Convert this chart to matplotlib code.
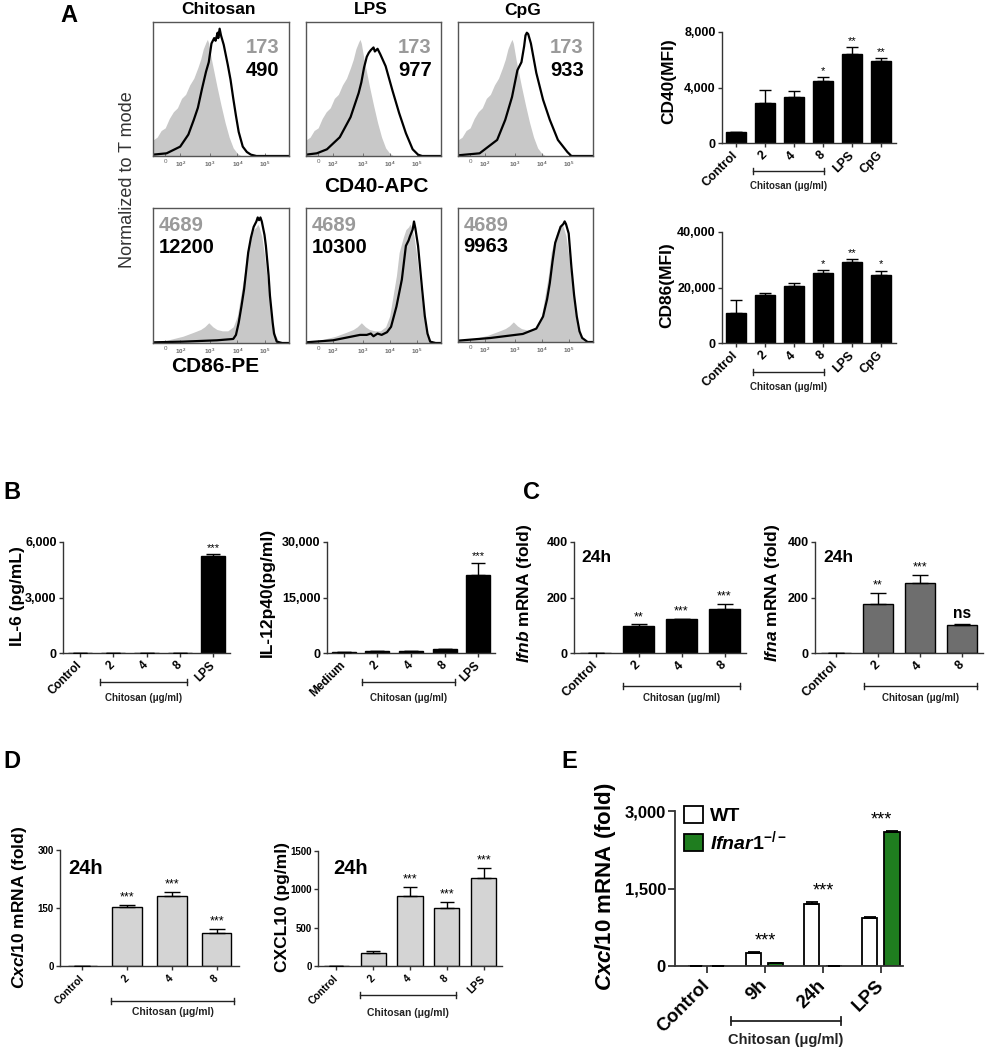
import numpy as np
import matplotlib
matplotlib.use('Agg')
import matplotlib.pyplot as plt
from matplotlib.transforms import blended_transform_factory
from matplotlib.patches import Patch

plt.rcParams['font.family'] = ['Liberation Sans', 'DejaVu Sans']
plt.rcParams['font.weight'] = 'bold'
plt.rcParams['mathtext.fontset'] = 'custom'
plt.rcParams['mathtext.rm'] = 'Liberation Sans:bold'
plt.rcParams['mathtext.it'] = 'Liberation Sans:italic:bold'
plt.rcParams['mathtext.bf'] = 'Liberation Sans:bold'

# ---------------- DATA ----------------
# Panel A histograms (x: fraction of axis width on biexponential scale, y: normalized to mode)
hist_tick_pos = [0.09, 0.20, 0.42, 0.62, 0.82]
hist_tick_labels = ['0', r'$10^2$', r'$10^3$', r'$10^4$', r'$10^5$']
hist_titles = ['Chitosan', 'LPS', 'CpG']

cd40_ctrl_x = [0.00, 0.03, 0.06, 0.09, 0.12, 0.15, 0.18, 0.21, 0.24, 0.27, 0.30, 0.33, 0.35, 0.37, 0.39,
               0.40, 0.41, 0.43, 0.45, 0.47, 0.50, 0.53, 0.56, 0.59, 0.62, 0.65]
cd40_ctrl_y = [0.12, 0.14, 0.19, 0.21, 0.28, 0.33, 0.36, 0.43, 0.46, 0.53, 0.58, 0.66, 0.72, 0.80, 0.85,
               0.87, 0.84, 0.72, 0.62, 0.52, 0.38, 0.25, 0.14, 0.06, 0.02, 0.0]
cd40_chit_x = [0.00, 0.10, 0.20, 0.26, 0.30, 0.33, 0.36, 0.39, 0.41, 0.43, 0.44, 0.45, 0.46, 0.475, 0.48,
               0.49, 0.50, 0.52, 0.55, 0.57, 0.59, 0.61, 0.63, 0.66, 0.69, 0.72, 0.76, 1.0]
cd40_chit_y = [0.01, 0.02, 0.07, 0.16, 0.27, 0.36, 0.50, 0.63, 0.70, 0.84, 0.86, 0.88, 0.86, 0.92, 0.88,
               0.95, 0.90, 0.83, 0.68, 0.57, 0.43, 0.30, 0.18, 0.07, 0.03, 0.01, 0.0, 0.0]
cd40_lps_x = [0.00, 0.08, 0.155, 0.25, 0.33, 0.36, 0.39, 0.41, 0.43, 0.45, 0.465, 0.48, 0.50, 0.51, 0.53,
              0.55, 0.59, 0.64, 0.69, 0.74, 0.79, 0.83, 0.86, 1.0]
cd40_lps_y = [0.01, 0.02, 0.05, 0.14, 0.29, 0.38, 0.47, 0.55, 0.66, 0.74, 0.77, 0.79, 0.81, 0.78, 0.80,
              0.76, 0.67, 0.49, 0.32, 0.17, 0.05, 0.01, 0.0, 0.0]
cd40_cpg_x = [0.00, 0.16, 0.29, 0.35, 0.40, 0.44, 0.47, 0.49, 0.50, 0.51, 0.52, 0.54, 0.58, 0.63, 0.68,
              0.74, 0.81, 0.84, 1.0]
cd40_cpg_y = [0.005, 0.02, 0.12, 0.27, 0.44, 0.64, 0.70, 0.82, 0.90, 0.92, 0.91, 0.84, 0.62, 0.42, 0.27,
              0.12, 0.03, 0.0, 0.0]

cd86_ctrl_x = [0.00, 0.10, 0.22, 0.30, 0.35, 0.38, 0.41, 0.44, 0.47, 0.51, 0.55, 0.59, 0.62, 0.64, 0.67,
               0.69, 0.72, 0.74, 0.76, 0.77, 0.78, 0.80, 0.82, 0.84, 0.86, 0.88, 0.90, 0.92, 0.95]
cd86_ctrl_y = [0.01, 0.02, 0.05, 0.08, 0.10, 0.12, 0.15, 0.12, 0.10, 0.09, 0.09, 0.12, 0.20, 0.32, 0.50,
               0.67, 0.78, 0.84, 0.86, 0.88, 0.86, 0.79, 0.65, 0.47, 0.30, 0.15, 0.06, 0.02, 0.0]
cd86_chit_x = [0.00, 0.22, 0.47, 0.59, 0.61, 0.63, 0.65, 0.67, 0.70, 0.72, 0.74, 0.76, 0.77, 0.78, 0.79,
               0.80, 0.82, 0.83, 0.85, 0.86, 0.88, 0.89, 0.91, 0.95, 1.0]
cd86_chit_y = [0.005, 0.01, 0.02, 0.03, 0.06, 0.15, 0.27, 0.40, 0.67, 0.78, 0.86, 0.90, 0.93, 0.91, 0.93,
               0.90, 0.80, 0.72, 0.50, 0.35, 0.15, 0.07, 0.01, 0.0, 0.0]
cd86_lps_x = [0.00, 0.20, 0.35, 0.40, 0.45, 0.48, 0.50, 0.53, 0.56, 0.60, 0.63, 0.67, 0.71, 0.74, 0.76,
              0.77, 0.79, 0.80, 0.81, 0.83, 0.86, 0.88, 0.90, 0.92, 0.96, 1.0]
cd86_lps_y = [0.005, 0.02, 0.05, 0.06, 0.06, 0.07, 0.05, 0.07, 0.06, 0.08, 0.12, 0.27, 0.47, 0.72, 0.76,
              0.79, 0.84, 0.90, 0.85, 0.72, 0.40, 0.20, 0.07, 0.01, 0.0, 0.0]
cd86_cpg_x = [0.00, 0.24, 0.48, 0.58, 0.63, 0.66, 0.68, 0.70, 0.72, 0.74, 0.76, 0.78, 0.79, 0.80, 0.82,
              0.84, 0.86, 0.88, 0.90, 0.92, 0.96, 1.0]
cd86_cpg_y = [0.01, 0.03, 0.06, 0.10, 0.19, 0.32, 0.44, 0.60, 0.74, 0.80, 0.86, 0.88, 0.90, 0.88, 0.81,
              0.56, 0.35, 0.19, 0.08, 0.03, 0.0, 0.0]

cd40_mfi_ctrl = '173'
cd40_mfi = ['490', '977', '933']
cd86_mfi_ctrl = '4689'
cd86_mfi = ['12200', '10300', '9963']

# Panel A bar charts
a_cats = ['Control', '2', '4', '8', 'LPS', 'CpG']
cd40_vals = [800, 2880, 3320, 4460, 6400, 5900]
cd40_err = [0, 920, 420, 290, 500, 200]
cd40_stars = ['', '', '', '*', '**', '**']
cd86_vals = [10800, 17300, 20400, 25200, 29200, 24500]
cd86_err = [4700, 800, 1400, 1100, 1000, 1600]
cd86_stars = ['', '', '', '*', '**', '*']

# Panel B
il6_cats = ['Control', '2', '4', '8', 'LPS']
il6_vals = [0, 0, 0, 20, 5230]
il6_err = [0, 0, 0, 0, 100]
il6_stars = ['', '', '', '', '***']
il12_cats = ['Medium', '2', '4', '8', 'LPS']
il12_vals = [300, 450, 600, 1080, 21100]
il12_err = [0, 0, 0, 0, 3300]
il12_stars = ['', '', '', '', '***']

# Panel C
c_cats = ['Control', '2', '4', '8']
ifnb_vals = [1, 98, 121, 157]
ifnb_err = [0, 5, 2, 19]
ifnb_stars = ['', '**', '***', '***']
ifna_vals = [1, 177, 253, 102]
ifna_err = [0, 39, 28, 2]
ifna_stars = ['', '**', '***', 'ns']

# Panel D
d1_cats = ['Control', '2', '4', '8']
cxcl10_mrna_vals = [1, 153, 181, 85]
cxcl10_mrna_err = [0, 4, 10, 11]
cxcl10_mrna_stars = ['', '***', '***', '***']
d2_cats = ['Control', '2', '4', '8', 'LPS']
cxcl10_prot_vals = [0, 170, 913, 757, 1148]
cxcl10_prot_err = [0, 26, 117, 78, 130]
cxcl10_prot_stars = ['', '', '***', '***', '***']

# Panel E
e_cats = ['Control', '9h', '24h', 'LPS']
e_wt_vals = [1, 252, 1200, 929]
e_wt_err = [0, 18, 40, 21]
e_ko_vals = [1, 55, 5, 2594]
e_ko_err = [0, 3, 1, 16]
e_stars = ['', '***', '***', '***']

chitosan_label = 'Chitosan (\u03bcg/ml)'

# ---------------- FIGURE ----------------
W, H = 986, 1050
fig = plt.figure(figsize=(W / 100, H / 100), dpi=100)
AXC = '#333333'


def rect(x0, y0, x1, y1):
    return [x0 / W, 1 - y1 / H, (x1 - x0) / W, (y1 - y0) / H]


def ftext(x, y, s, **kw):
    fig.text(x / W, 1 - y / H, s, **kw)


def hist_panel(box, gx, gy, bx, by, gnum, bnum, top):
    ax = fig.add_axes(rect(*box))
    ax.fill_between(gx, gy, 0, color='#c8c8c8', lw=0)
    ax.plot(bx, by, color='black', lw=1.6)
    ax.set_xlim(0, 1)
    ax.set_ylim(0, 1)
    ax.set_yticks([])
    ax.set_xticks(hist_tick_pos)
    ax.set_xticklabels(hist_tick_labels, fontsize=4.5, fontweight='normal')
    ax.tick_params(axis='x', direction='in', length=2, width=0.6, pad=2.5, colors='#666666')
    for sp in ax.spines.values():
        sp.set_color('#555555')
        sp.set_linewidth(1.0)
    if top:
        ax.text(0.93, 0.81, gnum, transform=ax.transAxes, ha='right', va='center',
                fontsize=14.5, color='#9a9a9a')
        ax.text(0.93, 0.64, bnum, transform=ax.transAxes, ha='right', va='center',
                fontsize=14.5, color='black')
    else:
        ax.text(0.04, 0.87, gnum, transform=ax.transAxes, ha='left', va='center',
                fontsize=14.5, color='#9a9a9a')
        ax.text(0.04, 0.71, bnum, transform=ax.transAxes, ha='left', va='center',
                fontsize=14.5, color='black')
    return ax


top_boxes = [(153, 22, 289, 156), (306, 22, 441, 156), (458, 22, 593, 156)]
bot_boxes = [(153, 208, 289, 343), (306, 208, 441, 343), (458, 208, 593, 342)]
top_curves = [(cd40_chit_x, cd40_chit_y), (cd40_lps_x, cd40_lps_y), (cd40_cpg_x, cd40_cpg_y)]
bot_curves = [(cd86_chit_x, cd86_chit_y), (cd86_lps_x, cd86_lps_y), (cd86_cpg_x, cd86_cpg_y)]
for i in range(3):
    hist_panel(top_boxes[i], cd40_ctrl_x, cd40_ctrl_y, *top_curves[i], cd40_mfi_ctrl, cd40_mfi[i], True)
    hist_panel(bot_boxes[i], cd86_ctrl_x, cd86_ctrl_y, *bot_curves[i], cd86_mfi_ctrl, cd86_mfi[i], False)
    cx = (top_boxes[i][0] + top_boxes[i][2]) / 2 - 3
    ftext(cx, 10, hist_titles[i], ha='center', va='center', fontsize=12.5)

ftext(376, 186, 'CD40-APC', ha='center', va='center', fontsize=15)
ftext(215, 367, 'CD86-PE', ha='center', va='center', fontsize=15)
ftext(128, 180, 'Normalized to T mode', ha='center', va='center', rotation=90,
      fontsize=13, fontweight='normal', color='#333333')


def style_axes(ax, fs_y, fs_x, tlen=3, lw=1.0, xpad=4.5):
    for s in ['top', 'right']:
        ax.spines[s].set_visible(False)
    for s in ['left', 'bottom']:
        ax.spines[s].set_color(AXC)
        ax.spines[s].set_linewidth(lw)
    ax.tick_params(axis='both', direction='out', length=tlen, width=lw, colors=AXC, pad=1.5)
    ax.tick_params(axis='y', labelsize=fs_y, labelcolor='black')
    ax.tick_params(axis='x', labelsize=fs_x, labelcolor='black', pad=xpad)


def bar_panel(box, cats, vals, errs, color, ymax, yticks, yticklabels, stars, xlim, width, cap,
              fs_y, fs_x, fs_star, star_pad=1.0, tlen=3, lw=1.0, xpad=4.5):
    ax = fig.add_axes(rect(*box))
    x = np.arange(len(cats))
    ax.bar(x, vals, width=width, color=color, edgecolor='black', linewidth=lw, zorder=2)
    ax.errorbar(x, vals, yerr=[np.zeros(len(vals)), errs], fmt='none', ecolor='black',
                elinewidth=lw, capsize=cap, capthick=lw, zorder=3)
    for xi, v, e, s in zip(x, vals, errs, stars):
        if s == 'ns':
            ax.annotate(s, (xi, v + e), xytext=(0, star_pad + 1), textcoords='offset points',
                        ha='center', va='bottom', fontsize=fs_star * 1.25, fontweight='bold',
                        annotation_clip=False)
        elif s:
            ax.annotate(s, (xi, v + e), xytext=(0, star_pad), textcoords='offset points',
                        ha='center', va='bottom', fontsize=fs_star, fontweight='normal',
                        annotation_clip=False)
    ax.set_xlim(*xlim)
    ax.set_ylim(0, ymax)
    ax.set_yticks(yticks)
    ax.set_yticklabels(yticklabels, fontweight='bold')
    ax.set_xticks(x)
    ax.set_xticklabels(cats, rotation=45, ha='right', va='center', rotation_mode='anchor',
                       fontweight='bold')
    style_axes(ax, fs_y, fs_x, tlen, lw, xpad)
    return ax


def bracket(ax, box, i0, i1, dy, text, fs, text_dy, lw=1.0, cap=3):
    h = box[3] - box[1]
    tr = blended_transform_factory(ax.transData, ax.transAxes)
    y = -dy / h
    ax.plot([i0, i1], [y, y], transform=tr, color='#222222', lw=lw, clip_on=False)
    for xi in (i0, i1):
        ax.plot([xi, xi], [y - cap / h, y + cap / h], transform=tr, color='#222222', lw=lw,
                clip_on=False)
    ax.text((i0 + i1) / 2, -text_dy / h, text, transform=tr, ha='center', va='center',
            fontsize=fs, fontweight='bold', color='#222222')


# ---- Panel A bars ----
b = (722, 32, 896, 143)
ax = bar_panel(b, a_cats, cd40_vals, cd40_err, 'black', 8000, [0, 4000, 8000], ['0', '4,000', '8,000'],
               cd40_stars, (-0.48, 5.52), 0.69, 4.5, 9, 9, 8)
bracket(ax, b, 0.6, 3.03, 28, chitosan_label, 7, 43)
ftext(669, 81, 'CD40(MFI)', rotation=90, ha='center', va='center', fontsize=12.5)

b = (722, 232, 896, 343)
ax = bar_panel(b, a_cats, cd86_vals, cd86_err, 'black', 40000, [0, 20000, 40000],
               ['0', '20,000', '40,000'], cd86_stars, (-0.48, 5.52), 0.69, 4.5, 9, 9, 8)
bracket(ax, b, 0.6, 3.03, 29, chitosan_label, 7, 44)
ftext(667, 285, 'CD86(MFI)', rotation=90, ha='center', va='center', fontsize=12.5)

# ---- Panel B ----
b = (63, 542, 230, 653)
ax = bar_panel(b, il6_cats, il6_vals, il6_err, 'black', 6000, [0, 3000, 6000], ['0', '3,000', '6,000'],
               il6_stars, (-0.5, 4.5), 0.72, 5, 9, 8.5, 8)
bracket(ax, b, 0.6, 3.2, 29, chitosan_label, 7, 45)
ftext(18, 596, 'IL-6 (pg/mL)', rotation=90, ha='center', va='center', fontsize=12.5)

b = (327, 542, 495, 653)
ax = bar_panel(b, il12_cats, il12_vals, il12_err, 'black', 30000, [0, 15000, 30000],
               ['0', '15,000', '30,000'], il12_stars, (-0.5, 4.5), 0.72, 5, 9, 8.5, 8)
bracket(ax, b, 0.55, 3.3, 29, chitosan_label, 7, 45)
ftext(267, 592, 'IL-12p40(pg/ml)', rotation=90, ha='center', va='center', fontsize=12.5)

# ---- Panel C ----
b = (574, 542, 746, 653)
ax = bar_panel(b, c_cats, ifnb_vals, ifnb_err, 'black', 400, [0, 200, 400], ['0', '200', '400'],
               ifnb_stars, (-0.5, 3.5), 0.70, 6, 9, 9, 9)
bracket(ax, b, 0.63, 3.37, 33, chitosan_label, 7, 45)
ftext(525, 593, r'$Ifnb$ mRNA (fold)', rotation=90, ha='center', va='center', fontsize=12.5)
ftext(581, 557, '24h', ha='left', va='center', fontsize=12.5)

b = (815, 542, 983, 653)
ax = bar_panel(b, c_cats, ifna_vals, ifna_err, '#6e6e6e', 400, [0, 200, 400], ['0', '200', '400'],
               ifna_stars, (-0.5, 3.5), 0.70, 6, 9, 9, 9)
bracket(ax, b, 0.67, 3.36, 33, chitosan_label, 7, 45)
ftext(773, 593, r'$Ifna$ mRNA (fold)', rotation=90, ha='center', va='center', fontsize=12.5)
ftext(823, 557, '24h', ha='left', va='center', fontsize=12.5)

# ---- Panel D ----
b = (60, 850, 239, 966)
ax = bar_panel(b, d1_cats, cxcl10_mrna_vals, cxcl10_mrna_err, '#d4d4d4', 300, [0, 150, 300],
               ['0', '150', '300'], cxcl10_mrna_stars, (-0.5, 3.5), 0.66, 6, 7, 7.5, 9, xpad=5)
bracket(ax, b, 0.64, 3.39, 35, chitosan_label, 7.5, 46)
ftext(20, 907, r'$Cxcl10$ mRNA (fold)', rotation=90, ha='center', va='center', fontsize=12.5)
ftext(68, 869, '24h', ha='left', va='center', fontsize=14.5)

b = (318, 851, 502, 966)
ax = bar_panel(b, d2_cats, cxcl10_prot_vals, cxcl10_prot_err, '#d4d4d4', 1500, [0, 500, 1000, 1500],
               ['0', '500', '1000', '1500'], cxcl10_prot_stars, (-0.5, 4.5), 0.69, 5, 7, 7.5, 9, xpad=5)
bracket(ax, b, 0.63, 3.26, 29, chitosan_label, 7.5, 47)
ftext(282, 907, 'CXCL10 (pg/ml)', rotation=90, ha='center', va='center', fontsize=12.5)
ftext(333, 869, '24h', ha='left', va='center', fontsize=14.5)

# ---- Panel E ----
b = (675, 811, 903, 966)
axE = fig.add_axes(rect(*b))
xg = np.arange(len(e_cats))
off, wE = 0.19, 0.26
green = '#1f7d1f'
axE.bar(xg - off, e_wt_vals, wE, color='white', edgecolor='black', linewidth=1.3, zorder=2)
axE.bar(xg + off, e_ko_vals, wE, color=green, edgecolor='black', linewidth=1.3, zorder=2)
axE.errorbar(xg - off, e_wt_vals, yerr=[np.zeros(4), e_wt_err], fmt='none', ecolor='black',
             elinewidth=1.3, capsize=4, capthick=1.3, zorder=3)
axE.errorbar(xg + off, e_ko_vals, yerr=[np.zeros(4), e_ko_err], fmt='none', ecolor='black',
             elinewidth=1.3, capsize=4, capthick=1.3, zorder=3)
for xi, s, v1, e1, v2, e2 in zip(xg, e_stars, e_wt_vals, e_wt_err, e_ko_vals, e_ko_err):
    if s:
        top = max(v1 + e1, v2 + e2)
        axE.annotate(s, (xi, top), xytext=(0, 2), textcoords='offset points', ha='center',
                     va='bottom', fontsize=13, fontweight='normal', annotation_clip=False)
axE.set_xlim(-0.55, 3.38)
axE.set_ylim(0, 3000)
axE.set_yticks([0, 1500, 3000])
axE.set_yticklabels(['0', '1,500', '3,000'], fontweight='bold')
axE.set_xticks(xg)
axE.set_xticklabels(e_cats, rotation=45, ha='right', va='center', rotation_mode='anchor',
                    fontweight='bold')
style_axes(axE, 12, 13.5, tlen=5, lw=1.3, xpad=7)
bracket(axE, b, 0.42, 2.31, 55, chitosan_label, 10.5, 74, lw=1.3, cap=4)
handles = [Patch(facecolor='white', edgecolor='black', linewidth=1.3),
           Patch(facecolor=green, edgecolor='black', linewidth=1.3)]
axE.legend(handles, ['WT', r'$Ifnar1^{-/-}$'], loc='upper left', bbox_to_anchor=(0.04, 1.03),
           frameon=False, handlelength=0.95, handleheight=0.95, handletextpad=0.4,
           labelspacing=0.2, borderaxespad=0, borderpad=0, prop={'weight': 'bold', 'size': 14})
ftext(605, 887, r'$Cxcl10$ mRNA (fold)', rotation=90, ha='center', va='center', fontsize=16)

# ---- Panel letters ----
for letter, (lx, ly) in zip('ABCDE', [(69, 15), (12, 492), (532, 492), (12, 761), (569, 762)]):
    ftext(lx, ly, letter, ha='center', va='center', fontsize=17)

fig.savefig('out.png', dpi=100)
